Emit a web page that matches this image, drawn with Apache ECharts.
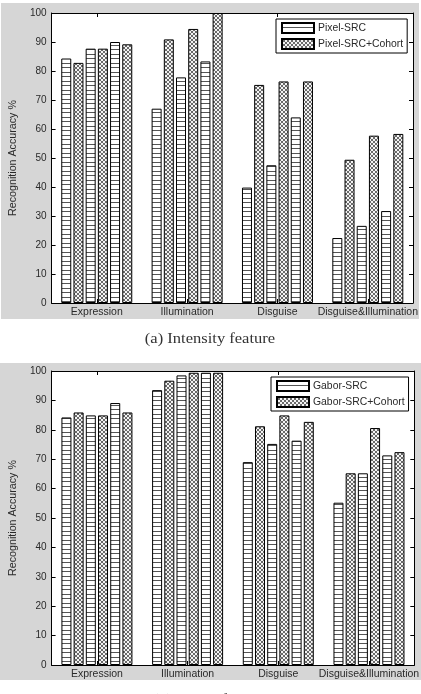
<!DOCTYPE html>
<html>
<head>
<meta charset="utf-8">
<script src="https://cdn.jsdelivr.net/npm/echarts@6/dist/echarts.min.js"></script>
<style>
html,body{margin:0;padding:0;background:#fff;}
#chart{width:421px;height:694px;}
</style>
</head>
<body>
<div id="chart"></div>
<script>
// ---- data ----
const categories = ['Expression', 'Illumination', 'Disguise', 'Disguise&Illumination'];
const yMin = 0, yMax = 100, yStep = 10;
const topLegend = ['Pixel-SRC', 'Pixel-SRC+Cohort'];
const bottomLegend = ['Gabor-SRC', 'Gabor-SRC+Cohort'];
const captionTop = '(a) Intensity feature';
const captionBottom = '(b) Gabor feature';
const yName = 'Recognition Accuracy %';
// three runs per method, values per category
const pixelSrc1 = [84.3, 67.0, 39.8, 22.4];
const pixelCohort1 = [82.8, 90.9, 75.2, 49.4];
const pixelSrc2 = [87.7, 77.8, 47.5, 26.6];
const pixelCohort2 = [87.7, 94.5, 76.4, 57.7];
const pixelSrc3 = [90.0, 83.3, 64.0, 31.7];
const pixelCohort3 = [89.2, 100.0, 76.4, 58.3];
const gaborSrc1 = [84.2, 93.5, 69.0, 55.2];
const gaborCohort1 = [85.9, 96.7, 81.2, 65.2];
const gaborSrc2 = [84.9, 98.5, 75.2, 65.2];
const gaborCohort2 = [84.9, 99.4, 84.9, 80.6];
const gaborSrc3 = [89.1, 99.4, 76.3, 71.3];
const gaborCohort3 = [85.9, 99.4, 82.7, 72.4];

// ---- patterns ----
function hLinePattern() {
  const c = document.createElement('canvas');
  c.width = 4; c.height = 9;
  const g = c.getContext('2d');
  g.fillStyle = '#fff'; g.fillRect(0, 0, 4, 9);
  g.fillStyle = '#555';
  g.fillRect(0, 0, 4, 1);
  g.fillRect(0, 4, 4, 1);
  return c;
}
function crossPattern() {
  const c = document.createElement('canvas');
  c.width = 4; c.height = 4;
  const g = c.getContext('2d');
  g.fillStyle = '#f4f4f4'; g.fillRect(0, 0, 4, 4);
  g.fillStyle = '#6a6a6a';
  const px = [[0,0],[3,0],[1,1],[2,1],[1,2],[2,2],[0,3],[3,3]];
  px.forEach(p => g.fillRect(p[0], p[1], 1, 1));
  return c;
}
const srcFill = { image: hLinePattern(), repeat: 'repeat' };
const cohFill = { image: crossPattern(), repeat: 'repeat' };

const FONT = 'Liberation Sans';
const TXT = '#2a2a2a';

function makeAxes(gi) {
  const base = { gridIndex: gi, type: 'category', data: categories };
  const ybase = { gridIndex: gi, type: 'value', min: yMin, max: yMax, interval: yStep, splitLine: { show: false } };
  const line = { show: true, onZero: false, lineStyle: { color: '#000', width: 1 } };
  const tick = { show: true, inside: true, length: 4, lineStyle: { color: '#000' } };
  return {
    x: [
      Object.assign({}, base, { position: 'bottom', axisLine: line, axisTick: Object.assign({ alignWithLabel: true }, tick),
        axisLabel: { margin: 4, color: TXT, fontFamily: FONT, fontSize: 10.5, interval: 0 } }),
      Object.assign({}, base, { position: 'top', axisLine: line, axisTick: Object.assign({ alignWithLabel: true }, tick),
        axisLabel: { show: false } })
    ],
    y: [
      Object.assign({}, ybase, { position: 'left', axisLine: line, axisTick: tick,
        axisLabel: { margin: 5, color: TXT, fontFamily: FONT, fontSize: 10 },
        name: yName, nameLocation: 'middle', nameGap: gi === 0 ? 27 : 29,
        nameTextStyle: { color: TXT, fontFamily: FONT, fontSize: 10.7 } }),
      Object.assign({}, ybase, { position: 'right', axisLine: line, axisTick: tick, axisLabel: { show: false } })
    ]
  };
}

function makeSeries(gi, names, srcs, cohs) {
  const out = [];
  for (let i = 0; i < 3; i++) {
    [[names[0], srcs[i], srcFill], [names[1], cohs[i], cohFill]].forEach(([nm, d, fill]) => {
      out.push({
        type: 'bar', name: nm, data: d,
        xAxisIndex: gi * 2, yAxisIndex: gi * 2,
        barWidth: 10, barGap: '22%',
        itemStyle: { color: fill, borderColor: '#000', borderWidth: 1 },
        emphasis: { disabled: true },
        animation: false
      });
    });
  }
  return out;
}

const a0 = makeAxes(0), a1 = makeAxes(1);

const legendCommon = {
  orient: 'vertical', icon: 'rect', itemWidth: 32, itemHeight: 10, itemGap: 4,
  backgroundColor: '#fff', borderColor: '#000', borderWidth: 1, padding: [3, 4, 3, 5],
  textStyle: { color: TXT, fontFamily: FONT, fontSize: 10.4, padding: [0, 0, 0, -1] },
  selectedMode: false
};

const option = {
  animation: false,
  backgroundColor: '#fff',
  graphic: [
    { type: 'rect', z: -10, shape: { x: 1, y: 3, width: 418, height: 316 }, style: { fill: '#d6d6d6' } },
    { type: 'rect', z: -10, shape: { x: 0, y: 363, width: 421, height: 317 }, style: { fill: '#d6d6d6' } },
    { type: 'text', x: 210, y: 339, scaleX: 1.18, style: { text: captionTop, font: '14px "Liberation Serif"', fill: '#333', align: 'center', verticalAlign: 'middle' } },
    { type: 'text', x: 210, y: 700, scaleX: 1.18, style: { text: captionBottom, font: '14px "Liberation Serif"', fill: '#333', align: 'center', verticalAlign: 'middle' } }
  ],
  grid: [
    { left: 44, top: 13, width: 369, height: 290, backgroundColor: '#fff', show: true, borderWidth: 0 },
    { left: 43, top: 371, width: 372, height: 294, backgroundColor: '#fff', show: true, borderWidth: 0 }
  ],
  legend: [
    Object.assign({}, legendCommon, { data: topLegend, left: 276, top: 19 }),
    Object.assign({}, legendCommon, { data: bottomLegend, left: 271, top: 377 })
  ],
  xAxis: a0.x.concat(a1.x),
  yAxis: a0.y.concat(a1.y),
  series: makeSeries(0, topLegend, [pixelSrc1, pixelSrc2, pixelSrc3], [pixelCohort1, pixelCohort2, pixelCohort3])
    .concat(makeSeries(1, bottomLegend, [gaborSrc1, gaborSrc2, gaborSrc3], [gaborCohort1, gaborCohort2, gaborCohort3]))
};

const chart = echarts.init(document.getElementById('chart'), null, { renderer: 'canvas' });
chart.setOption(option);
</script>
</body>
</html>
